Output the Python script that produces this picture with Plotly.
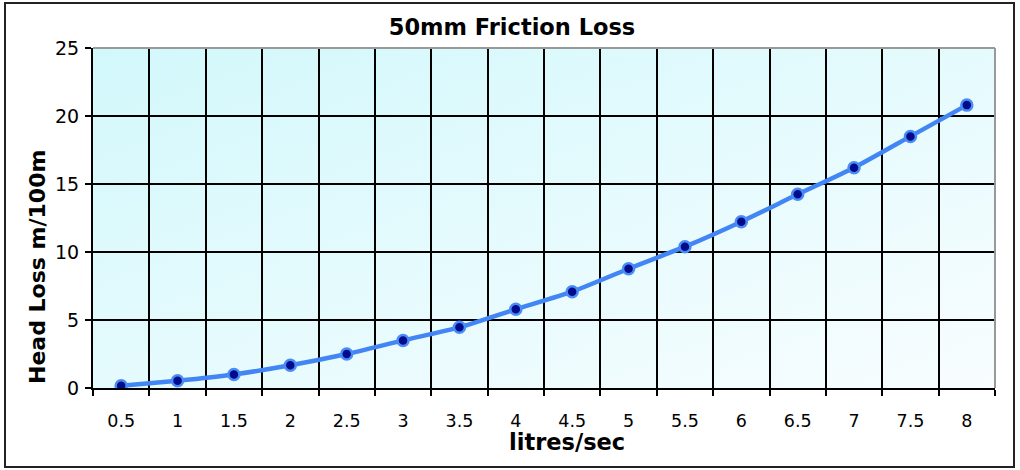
import plotly.graph_objects as go
import urllib.parse

flow = ["0.5", "1", "1.5", "2", "2.5", "3", "3.5", "4", "4.5", "5", "5.5", "6", "6.5", "7", "7.5", "8"]
head_loss = [0.17, 0.54, 1.0, 1.67, 2.5, 3.5, 4.46, 5.79, 7.08, 8.77, 10.39, 12.23, 14.24, 16.2, 18.5, 20.8]

title_text = "50mm Friction Loss"
x_title = "litres/sec"
y_title = "Head Loss m/100m"

FONT = "DejaVu Sans"

# plot area in pixels: x 93..995, y 48..388
PW, PH = 902, 340

svg = (
    '<svg xmlns="http://www.w3.org/2000/svg" width="100" height="100" preserveAspectRatio="none">'
    '<defs><linearGradient id="g" x1="0" y1="0" x2="1" y2="1">'
    '<stop offset="0" stop-color="#d2f8fb"/><stop offset="1" stop-color="#f8fdff"/>'
    '</linearGradient></defs><rect width="100" height="100" fill="url(#g)"/></svg>'
)
bg_src = "data:image/svg+xml;charset=utf-8," + urllib.parse.quote(svg)

fig = go.Figure()
fig.add_trace(go.Scatter(
    x=flow, y=head_loss, mode="lines+markers",
    line=dict(color="#4285f4", width=4.5, shape="spline", smoothing=0.6),
    marker=dict(size=11, color="#000c8a", line=dict(color="#4a8cf7", width=2.5)),
    showlegend=False, hoverinfo="x+y",
))

fig.update_layout(
    width=1020, height=470,
    margin=dict(l=93, r=25, t=48, b=82),
    paper_bgcolor="white",
    plot_bgcolor="rgba(0,0,0,0)",
    font=dict(family=FONT, color="black", size=14),
    title=dict(text="<b>" + title_text + "</b>", x=512 / 1020, xanchor="center",
               y=1 - 27 / 470, yanchor="middle", yref="container", xref="container",
               font=dict(size=22.5, family=FONT, color="black")),
    images=[dict(source=bg_src, xref="paper", yref="paper", x=0, y=1,
                 sizex=1, sizey=1, sizing="stretch", layer="below", xanchor="left", yanchor="top")],
    xaxis=dict(
        type="category", tickson="boundaries", range=[-0.5, 15.5],
        showgrid=True, gridcolor="black", gridwidth=2,
        showline=True, linecolor="black", linewidth=2,
        ticks="outside", ticklen=6, tickwidth=2, tickcolor="black",
        tickfont=dict(size=17.5, family=FONT), ticklabelstandoff=16,
        zeroline=False, fixedrange=True,
    ),
    yaxis=dict(
        range=[0, 25], dtick=5, tick0=0,
        showgrid=True, gridcolor="black", gridwidth=2,
        showline=True, linecolor="black", linewidth=2,
        ticks="outside", ticklen=6, tickwidth=2, tickcolor="black",
        tickfont=dict(size=19, family=FONT), ticklabelstandoff=2,
        zeroline=False, fixedrange=True,
    ),
    annotations=[
        dict(text="<b>" + x_title + "</b>", xref="paper", yref="paper",
             x=(567 - 93) / PW, y=(388 - 442) / PH, xanchor="center", yanchor="middle",
             showarrow=False, font=dict(size=22.5, family=FONT, color="black")),
        dict(text="<b>" + y_title + "</b>", xref="paper", yref="paper",
             x=(37 - 93) / PW, y=(388 - 267) / PH, xanchor="center", yanchor="middle",
             textangle=-90, showarrow=False, font=dict(size=22, family=FONT, color="black")),
    ],
    shapes=[
        dict(type="line", xref="paper", yref="paper", x0=0, x1=1, y0=1, y1=1,
             line=dict(color="#999999", width=2)),
        dict(type="line", xref="paper", yref="paper", x0=1, x1=1, y0=0, y1=1,
             line=dict(color="#999999", width=2)),
        dict(type="rect", xref="paper", yref="paper",
             x0=(5 - 93) / PW, x1=(1014 - 93) / PW,
             y0=(388 - 467) / PH, y1=(388 - 3) / PH,
             line=dict(color="#222222", width=2), layer="below"),
    ],
)

fig.write_html("out.html", config={"displayModeBar": False},
               post_script="document.body.style.margin='0';")
